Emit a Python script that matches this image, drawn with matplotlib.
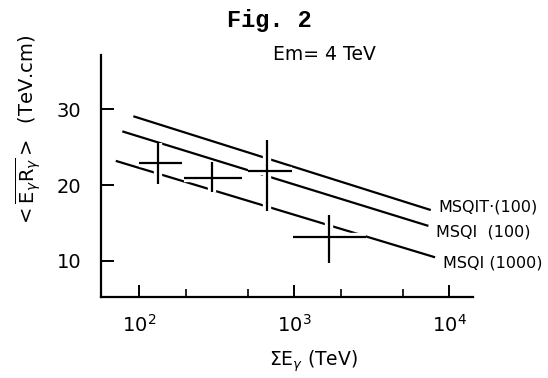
import matplotlib

matplotlib.use("Agg")
import matplotlib.pyplot as plt
from matplotlib.ticker import FixedLocator, NullFormatter

# model curves (straight in log E): end points
model_names = ["MSQIT·(100)", "MSQI  (100)", "MSQI (1000)"]
model_x = [[91.5, 7590.0], [77.7, 7330.0], [70.5, 8090.0]]
model_y = [[29.1, 16.7], [27.1, 14.6], [23.2, 10.45]]

# data points with error bars
pt_x = [131.5, 293.0, 664.0, 1683.0]
pt_y = [22.95, 21.0, 21.85, 13.1]
pt_xlo = [99.6, 195.0, 505.0, 986.0]
pt_xhi = [188.0, 461.0, 962.0, 2905.0]
pt_ylo = [20.2, 19.1, 16.6, 9.65]
pt_yhi = [25.6, 23.1, 26.0, 16.0]

yticks = [10, 20, 30]
xticks = [1e2, 1e3, 1e4]
xtick_labels = [r"$10^2$", r"$10^3$", r"$10^4$"]
xminor = [2e2, 5e2, 2e3, 5e3]

fig = plt.figure(figsize=(5.48, 3.78), dpi=100)
ax = fig.add_axes([0.1843, 0.2143, 0.863 - 0.1843, 0.8545 - 0.2143])

for xs, ys in zip(model_x, model_y):
    ax.plot(xs, ys, color="black", lw=1.6, solid_capstyle="butt", zorder=2)

# crosses: a white band first so the model lines look broken where they cross
for col, lw, z in [("white", 6, 3), ("black", 1.6, 4)]:
    for i in range(len(pt_x)):
        ax.plot([pt_xlo[i], pt_xhi[i]], [pt_y[i], pt_y[i]], color=col, lw=lw,
                solid_capstyle="butt", zorder=z)
        ax.plot([pt_x[i], pt_x[i]], [pt_ylo[i], pt_yhi[i]], color=col, lw=lw,
                solid_capstyle="butt", zorder=z)

# curve labels next to the line ends
label_dy = [0.35, -0.8, -0.8]
for name, xs, ys, dy in zip(model_names, model_x, model_y, label_dy):
    ax.text(xs[1] * 1.12, ys[1] + dy, name, fontsize=11.5, va="center", ha="left",
            clip_on=False)

ax.set_xscale("log")
ax.set_xlim(56.6, 14200)
ax.set_ylim(5.2, 37.2)
ax.xaxis.set_major_locator(FixedLocator(xticks))
ax.set_xticklabels(xtick_labels)
ax.xaxis.set_minor_locator(FixedLocator(xminor))
ax.xaxis.set_minor_formatter(NullFormatter())
ax.set_yticks(yticks)

for s in ["top", "right"]:
    ax.spines[s].set_visible(False)
for s in ["left", "bottom"]:
    ax.spines[s].set_linewidth(1.6)

ax.tick_params(axis="both", which="major", direction="in", length=9, width=1.4,
               labelsize=14, pad=12)
ax.tick_params(axis="y", pad=14)
ax.tick_params(axis="x", which="minor", direction="in", length=6, width=1.2)

fig.text(0.491, 0.945, "Fig. 2", fontsize=17, family="Liberation Mono",
         weight="bold", ha="center", va="center")
fig.text(0.5925, 0.856, "Em= 4 TeV", fontsize=13.5, ha="center", va="center")
fig.text(0.572, 0.045, r"ΣE$_\gamma$ (TeV)", fontsize=13.5, ha="center",
         va="center")
fig.text(0.052, 0.653,
         r"$<\overline{\mathrm{E}_\gamma \mathrm{R}_\gamma}>$  (TeV.cm)",
         fontsize=14, rotation=90, ha="center", va="center")

fig.savefig("out.png", dpi=100)
